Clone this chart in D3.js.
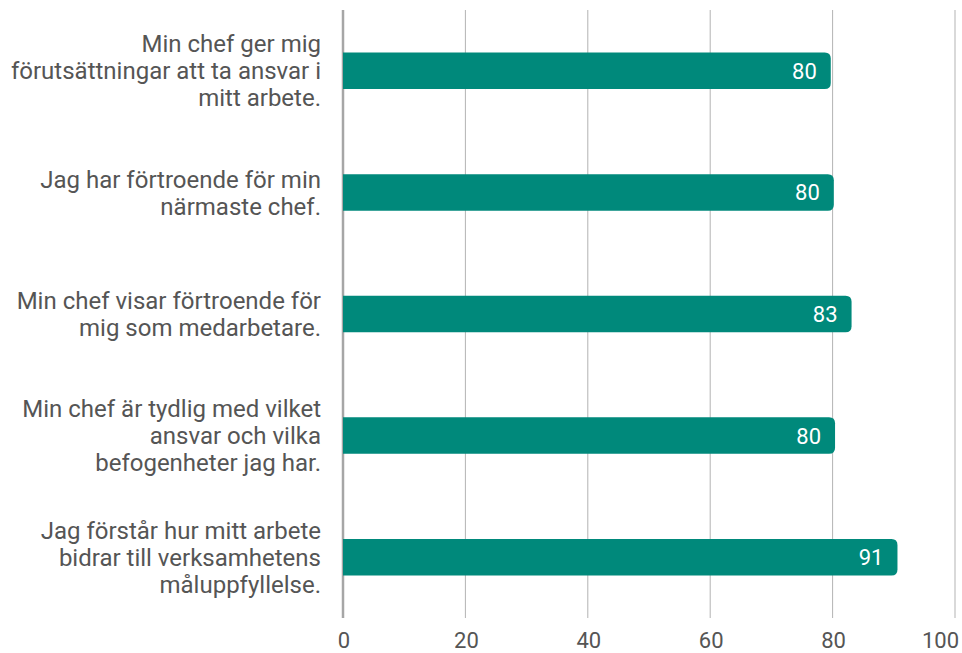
<!DOCTYPE html>
<html>
<head>
<meta charset="utf-8">
<script src="https://cdn.jsdelivr.net/npm/d3@7"></script>
<style>
  body { margin: 0; background: #fff; }
  text { font-family: Roboto, "Noto Sans", sans-serif; }
</style>
</head>
<body>
<div id="chart"></div>
<script>
// data
const questions = [
  ["Min chef ger mig", "förutsättningar att ta ansvar i", "mitt arbete."],
  ["Jag har förtroende för min", "närmaste chef."],
  ["Min chef visar förtroende för", "mig som medarbetare."],
  ["Min chef är tydlig med vilket", "ansvar och vilka", "befogenheter jag har."],
  ["Jag förstår hur mitt arbete", "bidrar till verksamhetens", "måluppfyllelse."]
];
const scores = [79.7, 80.2, 83.1, 80.4, 90.6];
const xTicks = [0, 20, 40, 60, 80, 100];

const width = 962, height = 653;
const margin = {top: 10, right: 7, bottom: 35, left: 343};
const barColor = "#00897b";

const svg = d3.select("#chart").append("svg")
  .attr("width", width)
  .attr("height", height);

const x = d3.scaleLinear()
  .domain([0, 100])
  .range([margin.left, width - margin.right]);

const y = d3.scaleBand()
  .domain(d3.range(questions.length))
  .range([margin.top, height - margin.bottom])
  .paddingInner(0.7)
  .paddingOuter(0.35);

// gridlines
svg.append("g")
  .selectAll("line")
  .data(xTicks)
  .join("line")
  .attr("x1", d => x(d)).attr("x2", d => x(d))
  .attr("y1", margin.top).attr("y2", height - margin.bottom)
  .attr("stroke", d => d === 0 ? "#a6a6a6" : "#b3b3b3")
  .attr("stroke-width", d => d === 0 ? 2.5 : 1);

// tick labels
svg.append("g")
  .selectAll("text")
  .data(xTicks)
  .join("text")
  .attr("x", (d, i) => i === xTicks.length - 1 ? x(d) + 4 : x(d) + 1)
  .attr("y", height - 5)
  .attr("text-anchor", (d, i) => i === xTicks.length - 1 ? "end" : "middle")
  .attr("font-size", 22)
  .attr("fill", "#555")
  .text(d => d);

// bars: square left end, rounded right end
const r = 6;
function barPath(i) {
  const x0 = x(0), x1 = x(scores[i]);
  const y0 = y(i), h = y.bandwidth();
  return `M${x0},${y0}H${x1 - r}Q${x1},${y0} ${x1},${y0 + r}` +
    `V${y0 + h - r}Q${x1},${y0 + h} ${x1 - r},${y0 + h}H${x0}Z`;
}

svg.append("g")
  .selectAll("path")
  .data(scores)
  .join("path")
  .attr("d", (d, i) => barPath(i))
  .attr("fill", barColor);

// value labels inside bar ends
svg.append("g")
  .selectAll("text")
  .data(scores)
  .join("text")
  .attr("x", d => x(d) - 14)
  .attr("y", (d, i) => y(i) + y.bandwidth() / 2)
  .attr("dy", "0.36em")
  .attr("text-anchor", "end")
  .attr("font-size", 22)
  .attr("fill", "#fff")
  .text(d => Math.round(d));

// category labels
const lineH = 27;
const labels = svg.append("g")
  .selectAll("text")
  .data(questions)
  .join("text")
  .attr("text-anchor", "end")
  .attr("font-size", 24)
  .attr("fill", "#555");

labels.each(function(lines, i) {
  const cy = y(i) + y.bandwidth() / 2;
  const start = cy - (lines.length - 1) * lineH / 2;
  d3.select(this).selectAll("tspan")
    .data(lines)
    .join("tspan")
    .attr("x", margin.left - 22)
    .attr("y", (d, j) => start + j * lineH)
    .attr("dy", "0.36em")
    .text(d => d);
});
</script>
</body>
</html>
